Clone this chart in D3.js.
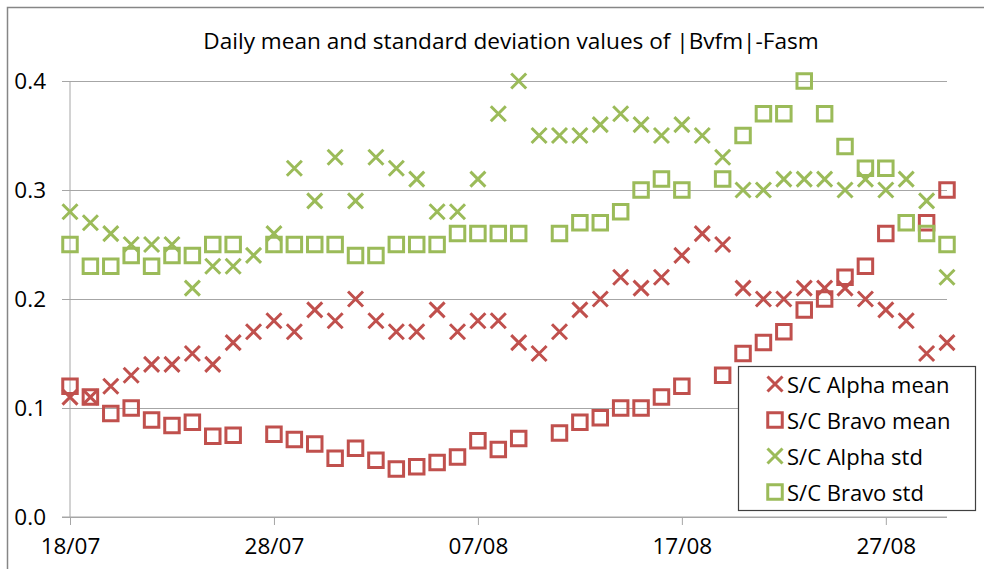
<!DOCTYPE html>
<html>
<head>
<meta charset="utf-8">
<script src="https://cdn.jsdelivr.net/npm/d3@7"></script>
<style>
  body { margin: 0; background: #fff; overflow: hidden; }
  text { font-family: "Open Sans", sans-serif; fill: #000; }
</style>
</head>
<body>
<svg id="chart" width="984" height="569"></svg>
<script>
// size and plot box
const width = 984,
    height = 569,
    plot = { left: 70, right: 947, top: 81, bottom: 517 };

// days on the x axis (one point per day)
const startDay = new Date(2015, 6, 18);
const endDay = new Date(2015, 7, 30);
const days = d3.timeDay.range(startDay, d3.timeDay.offset(endDay, 1));
const tickLabels = ["18/07", "28/07", "07/08", "17/08", "27/08"];
const yTicks = [0, 0.1, 0.2, 0.3, 0.4];

// series values (null = no point that day)
const alphaMean = [0.11, 0.11, 0.12, 0.13, 0.14, 0.14, 0.15, 0.14, 0.16, 0.17,
    0.18, 0.17, 0.19, 0.18, 0.20, 0.18, 0.17, 0.17, 0.19, 0.17,
    0.18, 0.18, 0.16, 0.15, 0.17, 0.19, 0.20, 0.22, 0.21, 0.22,
    0.24, 0.26, 0.25, 0.21, 0.20, 0.20, 0.21, 0.21, 0.21, 0.20,
    0.19, 0.18, 0.15, 0.16];
const bravoMean = [0.12, 0.11, 0.095, 0.10, 0.089, 0.084, 0.087, 0.074, 0.075, null,
    0.076, 0.071, 0.067, 0.054, 0.063, 0.052, 0.044, 0.046, 0.050, 0.055,
    0.070, 0.062, 0.072, null, 0.077, 0.087, 0.091, 0.100, 0.100, 0.110,
    0.120, null, 0.130, 0.150, 0.160, 0.170, 0.190, 0.200, 0.220, 0.230,
    0.260, null, 0.270, 0.300];
const alphaStd = [0.28, 0.27, 0.26, 0.25, 0.25, 0.25, 0.21, 0.23, 0.23, 0.24,
    0.26, 0.32, 0.29, 0.33, 0.29, 0.33, 0.32, 0.31, 0.28, 0.28,
    0.31, 0.37, 0.40, 0.35, 0.35, 0.35, 0.36, 0.37, 0.36, 0.35,
    0.36, 0.35, 0.33, 0.30, 0.30, 0.31, 0.31, 0.31, 0.30, 0.31,
    0.30, 0.31, 0.29, 0.22];
const bravoStd = [0.25, 0.23, 0.23, 0.24, 0.23, 0.24, 0.24, 0.25, 0.25, null,
    0.25, 0.25, 0.25, 0.25, 0.24, 0.24, 0.25, 0.25, 0.25, 0.26,
    0.26, 0.26, 0.26, null, 0.26, 0.27, 0.27, 0.28, 0.30, 0.31,
    0.30, null, 0.31, 0.35, 0.37, 0.37, 0.40, 0.37, 0.34, 0.32,
    0.32, 0.27, 0.26, 0.25];

const red = "#c0504d", green = "#9bbb59";
const xPath = "M-7.5,-7.5L7.5,7.5M-7.5,7.5L7.5,-7.5";
const squarePath = d3.symbol(d3.symbolSquare, 14.5 * 14.5)();

const series = [
    { name: "S/C Alpha mean", values: alphaMean, color: red, shape: xPath },
    { name: "S/C Bravo mean", values: bravoMean, color: red, shape: squarePath },
    { name: "S/C Alpha std", values: alphaStd, color: green, shape: xPath },
    { name: "S/C Bravo std", values: bravoStd, color: green, shape: squarePath }
];

const parseTick = d3.timeParse("%d/%m/%Y");

const svg = d3.select("#chart");

// chart frame (right and bottom edges fall outside the picture)
svg.append("rect")
    .attr("x", 7.5).attr("y", 7.5)
    .attr("width", width + 20).attr("height", height + 20)
    .attr("fill", "#fff").attr("stroke", "#868686").attr("stroke-width", 1.5);

const xScale = d3.scaleTime()
    .domain([startDay, endDay])
    .range([plot.left, plot.right]);

const yScale = d3.scaleLinear()
    .domain([0, 0.4])
    .range([plot.bottom, plot.top]);

// gridlines + y axis
const yAxis = d3.axisLeft(yScale)
    .tickValues(yTicks)
    .tickSize(-(plot.right - plot.left) - 8)
    .tickFormat(d3.format(".1f"));

const gy = svg.append("g")
    .attr("transform", `translate(${plot.right},0)`)
    .call(yAxis);
gy.select(".domain").remove();
gy.selectAll(".tick line")
    .attr("x1", 0).attr("x2", -(plot.right - plot.left) - 8)
    .attr("stroke", "#a6a6a6").attr("stroke-width", 1);
gy.selectAll(".tick text")
    .attr("x", -(plot.right - plot.left) - 24)
    .attr("font-size", 22.5)
    .attr("font-family", "Open Sans")
    .attr("fill", "#000");

svg.append("line")
    .attr("x1", plot.left).attr("x2", plot.left)
    .attr("y1", plot.top).attr("y2", plot.bottom)
    .attr("stroke", "#a6a6a6");

// x axis
const xAxis = d3.axisBottom(xScale)
    .tickValues(tickLabels.map(t => parseTick(t + "/2015")))
    .tickSize(8)
    .tickPadding(13)
    .tickFormat(d3.timeFormat("%d/%m"));

const gx = svg.append("g")
    .attr("transform", `translate(0,${plot.bottom})`)
    .call(xAxis);
gx.select(".domain").remove();
gx.selectAll(".tick line").attr("stroke", "#a6a6a6");
gx.selectAll(".tick text")
    .attr("font-size", 22.5)
    .attr("font-family", "Open Sans")
    .attr("fill", "#000");
svg.append("line")
    .attr("x1", plot.left - 8).attr("x2", plot.right)
    .attr("y1", plot.bottom).attr("y2", plot.bottom)
    .attr("stroke", "#a6a6a6");

// markers, drawn in series order so later series sit on top
series.forEach(s => {
    svg.append("g")
        .selectAll("path")
        .data(s.values.map((v, i) => ({ day: days[i], value: v })).filter(d => d.value !== null))
        .join("path")
        .attr("transform", d => `translate(${xScale(d.day)},${yScale(d.value)})`)
        .attr("d", s.shape)
        .attr("fill", "none")
        .attr("stroke", s.color)
        .attr("stroke-width", 3);
});

// title
svg.append("text")
    .attr("x", 511)
    .attr("y", 40)
    .attr("text-anchor", "middle")
    .attr("dominant-baseline", "central")
    .attr("font-size", 22.6)
    .text("Daily mean and standard deviation values of |Bvfm|-Fasm");

// legend
const legend = svg.append("g").attr("transform", "translate(738,366)");
legend.append("rect")
    .attr("x", 0.5).attr("y", 0.5)
    .attr("width", 237).attr("height", 144)
    .attr("fill", "#fff").attr("stroke", "#404040").attr("stroke-width", 1.2);

const rows = legend.selectAll("g.row")
    .data(series)
    .join("g")
    .attr("class", "row")
    .attr("transform", (d, i) => `translate(0,${18 + i * 36})`);
rows.append("path")
    .attr("transform", "translate(37,0)")
    .attr("d", d => d.shape)
    .attr("fill", "none")
    .attr("stroke", d => d.color)
    .attr("stroke-width", 3);
rows.append("text")
    .attr("x", 49)
    .attr("dominant-baseline", "central")
    .attr("font-size", 22)
    .text(d => d.name);
</script>
</body>
</html>
